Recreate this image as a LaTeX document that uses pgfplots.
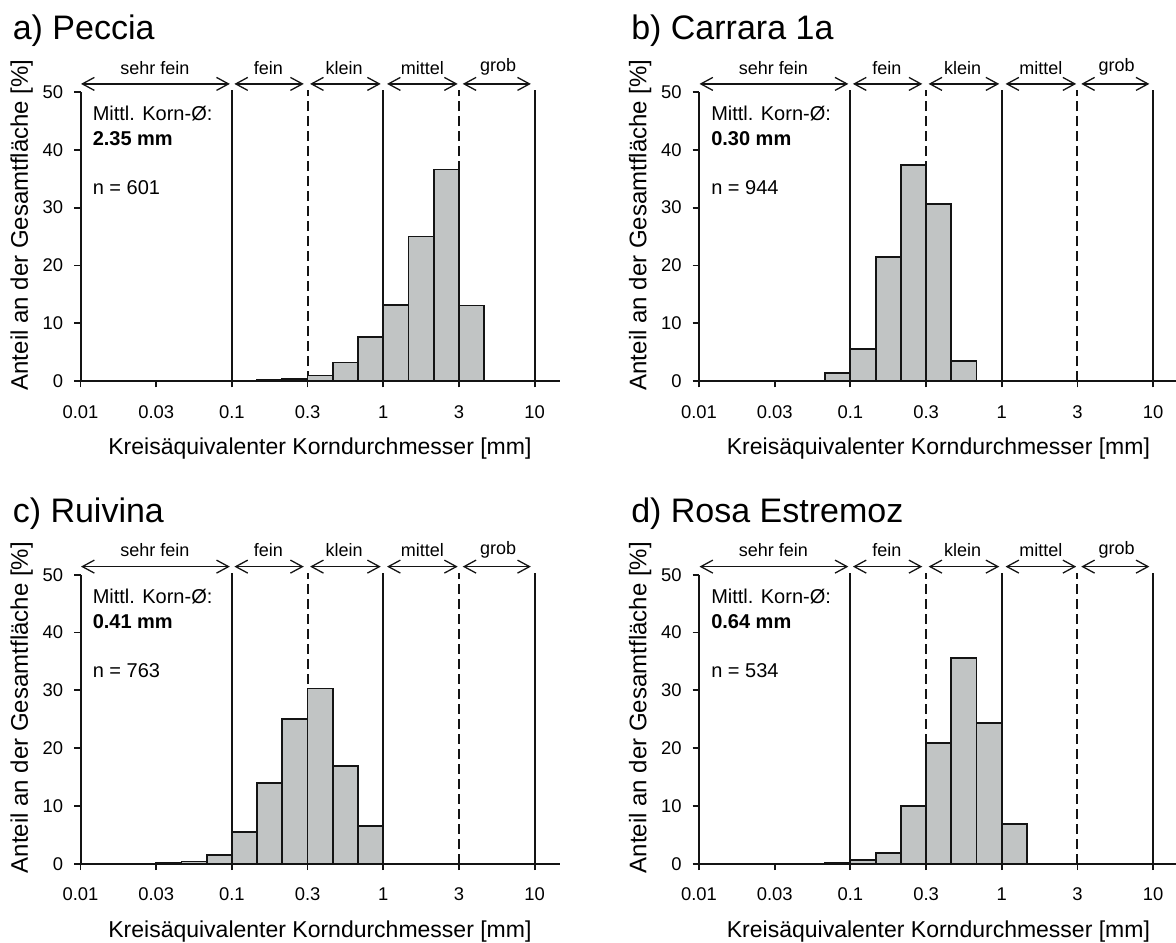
\documentclass[border=0pt]{standalone}
\usepackage{fontspec}
\setmainfont{Liberation Sans}
\setsansfont{Liberation Sans}
\usepackage{pgfplots}
\pgfplotsset{compat=1.18}
\usetikzlibrary{arrows.meta}
\definecolor{barfill}{RGB}{193,196,196}
\definecolor{ink}{RGB}{20,20,20}

% bin index: 0 = 0.01 mm, 3 = 0.03, 6 = 0.1, 9 = 0.3, 12 = 1, 15 = 3, 18 = 10
\pgfplotstableread{
x y
6 0.05
7 0.12
8 0.35
9 0.95
10 3.2
11 7.65
12 13.2
13 25.0
14 36.6
15 13.05
16 0
}\peccia
\pgfplotstableread{
x y
4 0.08
5 1.35
6 5.6
7 21.5
8 37.4
9 30.6
10 3.5
11 0
}\carrara
\pgfplotstableread{
x y
3 0.15
4 0.4
5 1.55
6 5.5
7 14.0
8 25.0
9 30.3
10 16.9
11 6.5
12 0
}\ruivina
\pgfplotstableread{
x y
5 0.15
6 0.7
7 1.9
8 10.0
9 20.9
10 35.6
11 24.4
12 6.85
13 0
}\rosa

\pgfplotsset{
  grain/.style={
    x=12.615pt, y=2.89pt,
    xmin=0, xmax=19, ymin=0, ymax=50,
    axis x line*=bottom, axis y line*=left,
    axis line style={ink, line width=1pt},
    xtick={0,3,...,18}, xticklabels={0.01,0.03,0.1,0.3,1,3,10},
    ytick={0,10,...,50},
    tick align=outside, major tick length=3.2pt,
    tick style={ink, line width=0.9pt},
    ticklabel style={font=\fontsize{9.2}{11}\selectfont},
    xticklabel style={anchor=base, yshift=-15.3pt},
    yticklabel style={/pgf/number format/assume math mode=true, xshift=-2pt},
    clip=false,
    anchor=south west,
  },
}
\tikzset{
  barb/.style={ink, line width=0.65pt,
    {Straight Barb[length=6pt,width=6.5pt]}-{Straight Barb[length=6pt,width=6.5pt]}},
  small/.style={font=\fontsize{9}{11}\selectfont, anchor=base, inner sep=0pt},
  note/.style={font=\fontsize{10}{12}\selectfont, anchor=base west, inner sep=0pt},
}

\newcommand{\classes}{%
  \addplot[ink, line width=1pt] coordinates {(6,0) (6,50.35)};
  \addplot[ink, line width=1pt, dash pattern=on 5pt off 2.5pt] coordinates {(9,0) (9,50.35)};
  \addplot[ink, line width=1pt] coordinates {(12,0) (12,50.35)};
  \addplot[ink, line width=1pt, dash pattern=on 5pt off 2.5pt] coordinates {(15,0) (15,50.35)};
  \addplot[ink, line width=1pt] coordinates {(18,0) (18,50.35)};
  \addplot[barb] coordinates {(0.02,51.4) (5.92,51.4)};
  \addplot[barb] coordinates {(6.1,51.4) (8.85,51.4)};
  \addplot[barb] coordinates {(9.1,51.4) (11.9,51.4)};
  \addplot[barb] coordinates {(12.15,51.4) (14.95,51.4)};
  \addplot[barb] coordinates {(15.15,51.4) (17.85,51.4)};
  \node[small] at (axis cs:2.95,53.1) {sehr fein};
  \node[small] at (axis cs:7.45,53.1) {fein};
  \node[small] at (axis cs:10.45,53.1) {klein};
  \node[small] at (axis cs:13.55,53.1) {mittel};
  \node[small] at (axis cs:16.55,53.5) {grob};
  \node[rotate=90, font=\fontsize{12}{14}\selectfont] at (axis cs:-2.33,27.0) {Anteil an der Gesamtfläche [\%]};
  \node[anchor=base, inner sep=0pt, font=\fontsize{11.5}{14}\selectfont] at (axis cs:9.49,-12.8) {Kreisäquivalenter Korndurchmesser [mm]};
}
\newcommand{\info}[3]{%
  \node[anchor=base west, inner sep=0pt, font=\fontsize{17}{20}\selectfont] at (axis cs:-2.7,59.1) {#1};
  \node[note] at (axis cs:0.47,45.0) {Mittl. Korn-Ø:};
  \node[note, font=\fontsize{10}{12}\selectfont\bfseries] at (axis cs:0.47,40.66) {#2};
  \node[note] at (axis cs:0.47,32.2) {#3};
}
\newcommand{\bars}[1]{%
  \addplot[ybar interval, fill=barfill, draw=ink, line width=0.9pt] table {#1};
}

\begin{document}
\begin{tikzpicture}
\path[use as bounding box] (0,0) rectangle (588pt,-471pt);

\begin{axis}[grain, at={(40.25pt,-190.5pt)}]
  \classes
  \bars{\peccia}
  \info{a) Peccia}{2.35 mm}{n = 601}
\end{axis}

\begin{axis}[grain, at={(349.5pt,-190.5pt)}]
  \classes
  \bars{\carrara}
  \info{b) Carrara 1a}{0.30 mm}{n = 944}
\end{axis}

\begin{axis}[grain, at={(40.25pt,-431.85pt)}]
  \classes
  \bars{\ruivina}
  \info{c) Ruivina}{0.41 mm}{n = 763}
\end{axis}

\begin{axis}[grain, at={(349.5pt,-431.85pt)}]
  \classes
  \bars{\rosa}
  \info{d) Rosa Estremoz}{0.64 mm}{n = 534}
\end{axis}
\end{tikzpicture}
\end{document}
